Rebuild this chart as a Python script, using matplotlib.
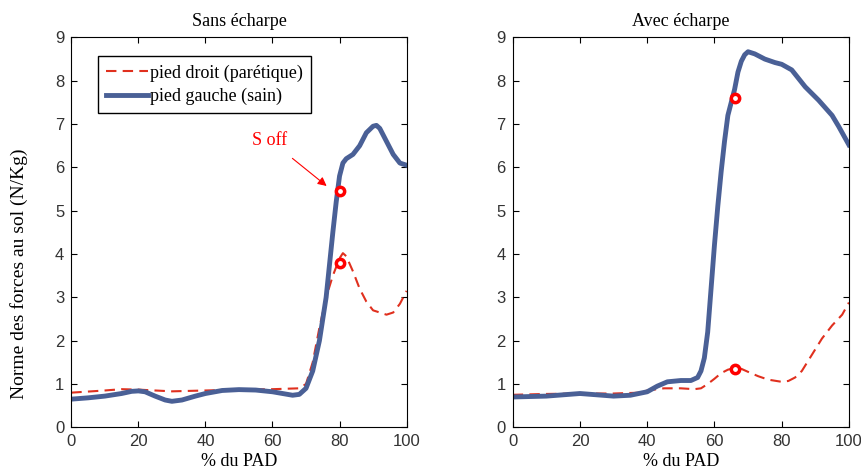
import numpy as np
import matplotlib.pyplot as plt

plt.rcParams['font.family'] = ['Liberation Serif', 'DejaVu Serif']

# Sans echarpe
x_sans_g = [0, 5, 10, 15, 18, 20, 22, 25, 28, 30, 33, 37, 40, 45, 50, 55, 60, 63, 66, 68,
            70, 72, 74, 76, 78, 79, 80, 81, 82, 84, 86, 88, 90, 91, 92, 94, 96, 98, 100]
y_sans_g = [0.65, 0.68, 0.72, 0.78, 0.83, 0.84, 0.82, 0.72, 0.63, 0.6, 0.63, 0.72, 0.78, 0.85,
            0.87, 0.86, 0.82, 0.78, 0.74, 0.76, 0.9, 1.3, 2.0, 3.0, 4.5, 5.2, 5.8, 6.1, 6.2,
            6.3, 6.5, 6.8, 6.95, 6.97, 6.9, 6.6, 6.3, 6.1, 6.05]
x_sans_d = [0, 10, 15, 20, 30, 40, 50, 60, 68, 70, 72, 74, 76, 78, 80, 81, 82, 84, 86,
            88, 90, 92, 94, 96, 98, 100]
y_sans_d = [0.8, 0.85, 0.88, 0.87, 0.83, 0.85, 0.87, 0.88, 0.9, 1.0, 1.5, 2.3, 3.0, 3.5,
            3.9, 4.02, 3.95, 3.6, 3.2, 2.9, 2.7, 2.65, 2.6, 2.65, 2.85, 3.15]
soff_sans = [80, 80]
soff_sans_y = [5.45, 3.8]

# Avec echarpe
x_avec_g = [0, 10, 20, 25, 30, 35, 40, 43, 46, 50, 53, 55, 56, 57, 58, 59, 60, 61, 62,
            63, 64, 65, 66, 67, 68, 69, 70, 72, 75, 78, 80, 83, 87, 91, 95, 97, 100]
y_avec_g = [0.7, 0.72, 0.78, 0.75, 0.72, 0.74, 0.82, 0.95, 1.05, 1.08, 1.08, 1.15, 1.3,
            1.6, 2.2, 3.2, 4.2, 5.1, 5.9, 6.6, 7.2, 7.5, 7.8, 8.2, 8.45, 8.6, 8.67, 8.62,
            8.5, 8.42, 8.38, 8.25, 7.86, 7.55, 7.2, 6.94, 6.52]
x_avec_d = [0, 10, 20, 30, 38, 40, 45, 50, 54, 56, 58, 60, 62, 64, 66, 68, 70, 73, 76,
            80, 82, 84, 86, 88, 90, 92, 95, 98, 100]
y_avec_d = [0.75, 0.77, 0.78, 0.78, 0.8, 0.85, 0.9, 0.9, 0.88, 0.9, 1.0, 1.12, 1.25, 1.33,
            1.37, 1.35, 1.28, 1.18, 1.1, 1.05, 1.07, 1.15, 1.3, 1.55, 1.8, 2.05, 2.35,
            2.6, 2.88]
soff_avec = [66, 66]
soff_avec_y = [7.6, 1.35]

bleu = '#4a6096'
rouge = '#e0301e'

fig = plt.figure(figsize=(8.62, 4.72), dpi=100)
ax1 = fig.add_axes([0.0827, 0.0947, 0.389, 0.826])
ax2 = fig.add_axes([0.5948, 0.0947, 0.390, 0.826])

panneaux = [(ax1, 'Sans écharpe', x_sans_d, y_sans_d, x_sans_g, y_sans_g, soff_sans, soff_sans_y),
            (ax2, 'Avec écharpe', x_avec_d, y_avec_d, x_avec_g, y_avec_g, soff_avec, soff_avec_y)]

for ax, titre, xd, yd, xg, yg, xs, ys in panneaux:
    ax.plot(xd, yd, '--', color=rouge, lw=1.5, dashes=(5, 3), label='pied droit (parétique)')
    ax.plot(xg, yg, '-', color=bleu, lw=3.5, solid_joinstyle='round',
            label='pied gauche (sain)')
    ax.plot(xs, ys, 'o', ms=6, mfc='white', mec='red', mew=2.5, ls='none')
    ax.set_xlim(0, 100)
    ax.set_ylim(0, 9)
    ax.set_xticks(np.arange(0, 101, 20))
    ax.set_yticks(np.arange(0, 10, 1))
    ax.tick_params(direction='in', top=True, right=True, labelsize=12, length=4, pad=5)
    for lab in ax.get_xticklabels() + ax.get_yticklabels():
        lab.set_family(['Liberation Sans', 'DejaVu Sans'])
        lab.set_color('#333333')
    ax.set_title(titre, fontsize=13, pad=8)
    ax.set_xlabel('% du PAD', fontsize=13, labelpad=3)

ax1.set_ylabel('Norme des forces au sol (N/Kg)', fontsize=14)
ax1.yaxis.set_label_coords(-0.13, 0.393)
leg = ax1.legend(loc='upper left', bbox_to_anchor=(0.08, 0.952), fontsize=13,
                 fancybox=False, edgecolor='black', framealpha=1, borderaxespad=0,
                 handlelength=2.3, handletextpad=0.1, borderpad=0.45, labelspacing=0.35)
leg.get_frame().set_linewidth(1.0)

ax1.annotate('S off', xy=(76.8, 5.53), xytext=(59.2, 6.63), color='red', fontsize=13,
             ha='center', va='center',
             arrowprops=dict(arrowstyle='-|>', color='red', lw=0.8, shrinkA=8))

plt.savefig('out.png', dpi=100)
